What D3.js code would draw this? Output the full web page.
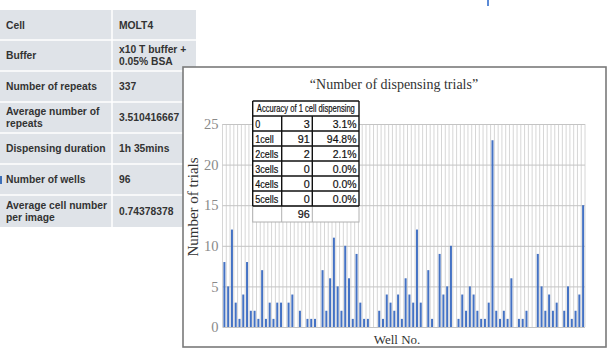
<!DOCTYPE html>
<html><head><meta charset="utf-8">
<script src="https://cdn.jsdelivr.net/npm/d3@7"></script>
<style>body{margin:0;background:#fff;} svg{display:block;}</style>
</head><body>
<svg id="c" width="611" height="355"></svg>
<script>
// ---------- data ----------
const infoLabels = [["Cell"],["Buffer"],["Number of repeats"],["Average number of","repeats"],["Dispensing duration"],["Number of wells"],["Average cell number","per image"]];
const infoValues = [["MOLT4"],["x10 T buffer +","0.05% BSA"],["337"],["3.510416667"],["1h 35mins"],["96"],["0.74378378"]];
const wells = d3.range(1, 97);
const trials = [8,5,12,3,1,4,8,2,2,1, 7,1,3,1,3,3,0,3,4,0, 2,0,1,1,1,0,7,2,6,11,
                5,2,10,6,1,9,3,1,1,0, 0,2,1,4,3,2,4,1,6,4, 3,12,3,0,7,1,0,9,4,5,
                10,0,1,4,2,5,4,2,1,1, 3,23,2,1,2,1,6,0,1,1, 2,0,0,9,5,2,4,2,3,0,
                2,5,1,2,4,15];
const yTicks = [0,5,10,15,20,25];
const accHeader = "Accuracy of 1 cell dispensing";
const accLabels = ["0","1cell","2cells","3cells","4cells","5cells"];
const accCounts = [3,91,2,0,0,0];
const accPercents = ["3.1%","94.8%","2.1%","0.0%","0.0%","0.0%"];
const accTotal = 96;
const chartTitle = "\u201CNumber of dispensing trials\u201D";
const yTitle = "Number of trials";
const xTitle = "Well No.";

const svg = d3.select("#c");

// ---------- left info table ----------
const rowEdges = [10,40,71,102,133,164,195,227];
const tblW = 196, colDiv = 112;
const info = svg.append("g");
info.append("rect").attr("x",0).attr("y",rowEdges[0]).attr("width",tblW)
  .attr("height",rowEdges[7]-rowEdges[0]).attr("fill","#dfe3e8");
rowEdges.slice(1,-1).forEach(e=>{
  info.append("line").attr("x1",0).attr("x2",tblW).attr("y1",e).attr("y2",e)
    .attr("stroke","#fff").attr("stroke-width",1.5);
});
info.append("line").attr("x1",colDiv).attr("x2",colDiv).attr("y1",rowEdges[0]).attr("y2",rowEdges[7])
  .attr("stroke","#fff").attr("stroke-width",1.5);
function multi(g, x, cy, lines){
  const n = lines.length, lh = 12;
  lines.forEach((t,i)=>{
    g.append("text").attr("x",x).attr("y",cy-(n-1)*lh/2+i*lh+3.7)
      .attr("font-family","Liberation Sans, Arial, sans-serif").attr("font-weight","bold")
      .attr("font-size",10.3).attr("fill","#333").text(t);
  });
}
infoLabels.forEach((l,i)=>multi(info,6,(rowEdges[i]+rowEdges[i+1])/2,l));
infoValues.forEach((l,i)=>multi(info,119,(rowEdges[i]+rowEdges[i+1])/2,l));
// small blue marks at image edges
svg.append("rect").attr("x",0).attr("y",176).attr("width",2).attr("height",8).attr("fill","#3d6fb8");
svg.append("rect").attr("x",487).attr("y",0).attr("width",2).attr("height",6).attr("fill","#5b8ad6");

// ---------- chart panel ----------
svg.append("rect").attr("x",183).attr("y",67).attr("width",423).attr("height",280)
  .attr("fill","#fff").attr("stroke","#7a7a7a").attr("stroke-width",1.6);

const x0 = 222.5, x1 = 585, yTop = 124, yBot = 327;
const xg = d3.scaleBand().domain(wells).range([x0,x1]).padding(0);
const y = d3.scaleLinear().domain([0,25]).range([yBot,yTop]);

// vertical gridlines
const vg = svg.append("g");
wells.concat([null]).forEach((d,i)=>{
  const xx = d===null ? x1 : xg(d);
  vg.append("line").attr("x1",xx).attr("x2",xx).attr("y1",yTop).attr("y2",yBot)
    .attr("stroke","#d6d6d6").attr("stroke-width",1);
});

// horizontal gridlines + y labels
const yAxis = d3.axisLeft(y).tickValues(yTicks).tickSize(-(x1-x0)).tickPadding(4);
const ya = svg.append("g").attr("transform",`translate(${x0},0)`).call(yAxis);
ya.select(".domain").remove();
ya.selectAll(".tick line").attr("stroke","#c4c4c4");
ya.selectAll(".tick text").attr("font-family","Liberation Serif, Times New Roman, serif")
  .attr("font-size",14.5).attr("fill","#8a8a8a");

// bars
const bw = 2;
svg.append("g").selectAll("rect").data(wells).join("rect")
  .attr("x",d=>xg(d)+(xg.bandwidth()-bw)/2)
  .attr("y",(d,i)=>y(trials[i]))
  .attr("width",bw)
  .attr("height",(d,i)=>y(0)-y(trials[i]))
  .attr("fill","#4472c4");

// titles
svg.append("text").attr("x",394).attr("y",89).attr("text-anchor","middle")
  .attr("font-family","Liberation Serif, Times New Roman, serif").attr("font-size",14)
  .attr("fill","#333").text(chartTitle);
svg.append("text").attr("transform","translate(198,207) rotate(-90)").attr("text-anchor","middle")
  .attr("font-family","Liberation Serif, Times New Roman, serif").attr("font-size",15)
  .attr("fill","#333").text(yTitle);
svg.append("text").attr("x",397).attr("y",344).attr("text-anchor","middle")
  .attr("font-family","Liberation Serif, Times New Roman, serif").attr("font-size",13)
  .attr("fill","#333").text(xTitle);

// ---------- inset accuracy table ----------
const cx = [252.7,281.7,312.3,359];
const ry = [101,116,131,146,161,176,191,206,222];
const it = svg.append("g");
it.append("rect").attr("x",cx[0]).attr("y",ry[0]).attr("width",cx[3]-cx[0]).attr("height",ry[8]-ry[0]).attr("fill","#fff");
// total row light borders
it.append("rect").attr("x",cx[0]).attr("y",ry[7]).attr("width",cx[3]-cx[0]).attr("height",ry[8]-ry[7])
  .attr("fill","none").attr("stroke","#b0b0b0").attr("stroke-width",1);
[cx[1],cx[2]].forEach(xx=>it.append("line").attr("x1",xx).attr("x2",xx).attr("y1",ry[7]).attr("y2",ry[8]).attr("stroke","#b0b0b0"));
// black grid
function ln(xa,ya_,xb,yb){ it.append("line").attr("x1",xa).attr("y1",ya_).attr("x2",xb).attr("y2",yb).attr("stroke","#111").attr("stroke-width",1.4); }
ry.slice(0,8).forEach(r=>ln(cx[0],r,cx[3],r));
ln(cx[0],ry[0],cx[0],ry[7]); ln(cx[3],ry[0],cx[3],ry[7]);
ln(cx[1],ry[1],cx[1],ry[7]); ln(cx[2],ry[1],cx[2],ry[7]);
function txt(x,yy,t,anchor,squeeze,size,fixedLen){
  const el = it.append("text").attr("x",x).attr("y",yy).attr("text-anchor",anchor)
    .attr("font-family","Liberation Sans, Arial, sans-serif").attr("font-size",size)
    .attr("fill","#111").attr("stroke","#111").attr("stroke-width",0.2).text(t);
  const L = fixedLen || el.node().getComputedTextLength()*squeeze;
  el.attr("textLength",L).attr("lengthAdjust","spacingAndGlyphs");
  return el;
}
txt((cx[0]+cx[3])/2, ry[0]+11, accHeader, "middle", 1, 10, 98);
accLabels.forEach((l,i)=>{
  const cy = (ry[i+1]+ry[i+2])/2 + 4;
  txt(cx[0]+2.5, cy, l, "start", 0.82, 11);
  txt(cx[2]-2.5, cy, String(accCounts[i]), "end", 0.98, 11);
  txt(cx[3]-2.5, cy, accPercents[i], "end", 0.95, 11);
});
txt(cx[2]-2.5, (ry[7]+ry[8])/2+4, String(accTotal), "end", 0.98, 11);
</script>
</body></html>
